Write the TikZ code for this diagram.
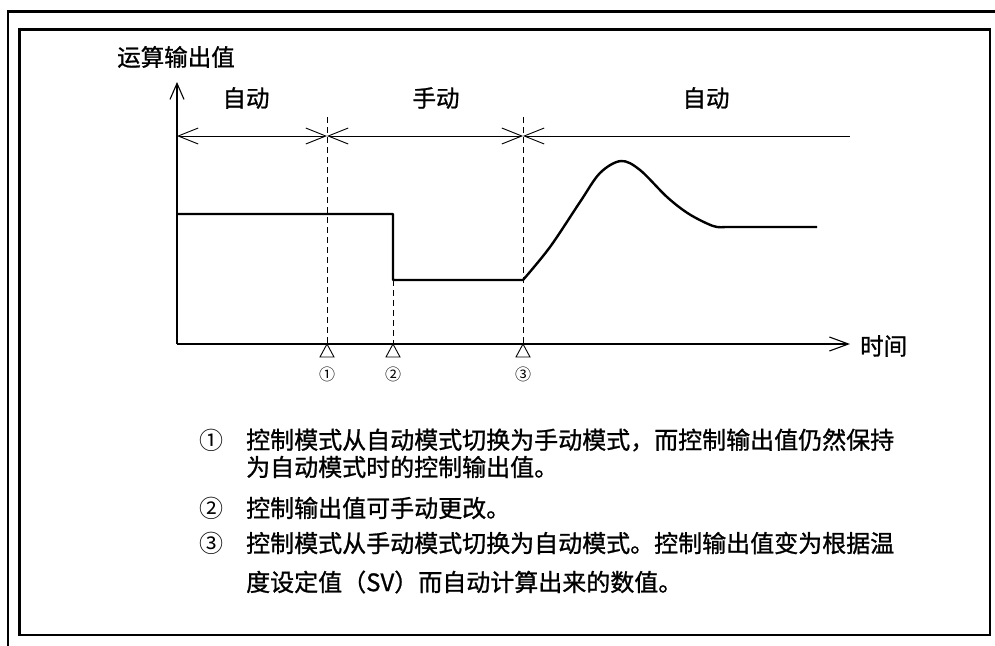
\documentclass[tikz,border=0pt]{standalone}
\usepackage{fontspec}
\newfontfamily\cjk[FakeBold=1]{Noto Sans CJK SC}
\newfontfamily\cjkthin{Noto Sans CJK SC}
\usetikzlibrary{arrows.meta}
\begin{document}
\begin{tikzpicture}[x=1pt,y=-1pt,
  frameline/.style={line width=2.6pt},
  axisline/.style={line width=1.1pt},
  curveline/.style={line width=2.4pt, line join=round},
  guide/.style={line width=0.9pt, dash pattern=on 6pt off 4pt},
  lbl/.style={font=\cjk\fontsize{23.5}{28}\selectfont, inner sep=0pt},
  note/.style={font=\cjk\fontsize{24}{28}\selectfont, inner sep=0pt, anchor=west},
  notemark/.style={font=\cjkthin\fontsize{24}{28}\selectfont, inner sep=0pt, anchor=west},
  small/.style={font=\cjkthin\fontsize{16}{18}\selectfont, inner sep=0pt},
  mark3/.style={line width=0.9pt}
]
\useasboundingbox (0,0) rectangle (995,645);
% frames
\draw[frameline] (8,660) -- (8,11.5) -- (1010,11.5);
\draw[frameline] (19.5,29.5) rectangle (990,635);

% coordinates
\coordinate (O) at (177,344);
\coordinate (Ytop) at (177,82);
\coordinate (Xend) at (850,344);
\coordinate (M0) at (177,136);
\coordinate (M1) at (327,136);
\coordinate (M3) at (523,136);
\coordinate (Mend) at (850,136);
\coordinate (T1) at (327,117);
\coordinate (T3) at (523,117);
\coordinate (B1) at (327,344);
\coordinate (B2) at (393,344);
\coordinate (B3) at (523,344);
\coordinate (S2) at (393,280);

% axes
\draw[axisline,-{Straight Barb[length=16pt,width=14pt]}] (O) -- (Ytop);
\draw[axisline,-{Straight Barb[length=19pt,width=14pt]}] (O) -- (Xend);

% mode arrows
\draw[line width=0.9pt,{Straight Barb[length=20pt,width=16pt]}-{Straight Barb[length=20pt,width=16pt]}] (M0) -- (M1);
\draw[line width=0.9pt,{Straight Barb[length=20pt,width=16pt]}-{Straight Barb[length=20pt,width=16pt]}] (M1) -- (M3);
\draw[line width=0.9pt,{Straight Barb[length=20pt,width=16pt]}-] (M3) -- (Mend);

% dashed guides
\draw[guide] (T1) -- (B1);
\draw[guide] (S2) -- (B2);
\draw[guide] (T3) -- (B3);

% triangles
\foreach \p in {B1,B2,B3}{
  \draw[mark3, line join=miter] (\p) -- ++(-7,13) -- ++(14,0) -- cycle;
}

% output curve
\draw[curveline] (177,214) -- (393,214) -- (393,280) -- (523,280)
  plot[smooth, tension=0.55] coordinates {(523,280) (550,247) (580,202) (600,173) (621,161) (640,170) (667,197) (689,214) (713,226) (725,227)}
  -- (817,227);

% labels
\node[lbl] (ylab) at (176,57) {运算输出值};
\node[lbl] (m1) at (246,98) {自动};
\node[lbl] (m2) at (436,98) {手动};
\node[lbl] (m3) at (706,98) {自动};
\node[lbl, anchor=west] (xlab) at (860,346) {时间};
\node[small] (c1) at (327,374) {①};
\node[small] (c2) at (393,374) {②};
\node[small] (c3) at (523,374) {③};

% notes
\node[notemark] (n1m) at (199,440) {①};
\node[note] (n1) at (246,440) {控制模式从自动模式切换为手动模式，而控制输出值仍然保持};
\node[note] (n1b) at (246,467) {为自动模式时的控制输出值。};
\node[notemark] (n2m) at (199,508) {②};
\node[note] (n2) at (246,508) {控制输出值可手动更改。};
\node[notemark] (n3m) at (199,543) {③};
\node[note] (n3) at (246,543) {控制模式从手动模式切换为自动模式。控制输出值变为根据温};
\node[note] (n3b) at (246,582) {度设定值（SV）而自动计算出来的数值。};
\end{tikzpicture}
\end{document}
